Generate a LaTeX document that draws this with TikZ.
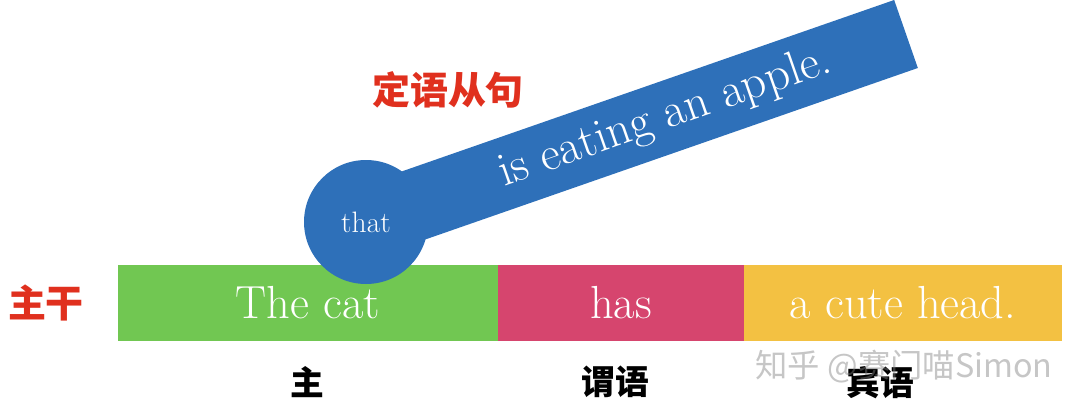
\documentclass[tikz,border=0pt]{standalone}
\usepackage{fontspec}
\newfontfamily\cjk{Noto Sans CJK SC}
\usetikzlibrary{positioning,calc}
\definecolor{catgreen}{RGB}{113,199,82}
\definecolor{haspink}{RGB}{214,69,110}
\definecolor{headyellow}{RGB}{243,193,66}
\definecolor{clauseblue}{RGB}{46,112,185}
\definecolor{tagred}{RGB}{224,48,30}

\begin{document}
\begin{tikzpicture}[
        word/.style={minimum height=1.9cm, inner sep=0pt, outer sep=0pt, text=white, font=\fontsize{33}{33}\selectfont},
        role/.style={font=\cjk\bfseries\fontsize{24}{24}\selectfont},
        tag/.style={font=\cjk\bfseries\fontsize{27}{27}\selectfont, text=tagred}
    ]
        \useasboundingbox (0,0) rectangle (27,10.325);

        % Main clause
        \node[word, fill=catgreen, minimum width=9.5cm] (subj) at (7.7, 2.75) {The cat};
        \node[word, fill=haspink, minimum width=6.15cm, right=0pt of subj] (pred) {has};
        \node[word, fill=headyellow, minimum width=7.95cm, right=0pt of pred] (obj) {a cute head.};

        % Relative clause
        \coordinate (hub) at (9.15, 4.775);
        \coordinate (tip) at (22.65, 9.475);
        \draw[clauseblue, line width=1.8cm] (hub) -- (tip);
        \node[circle, fill=clauseblue, minimum size=3.1cm, inner sep=0pt, text=white,
              font=\fontsize{21}{21}\selectfont] (rel) at (hub) {that};
        \node[rotate=19.2, text=white, font=\fontsize{34}{34}\selectfont] (clause)
            at ($(hub)!0.554!(tip)$) {is eating an apple.};

        % Tags
        \node[tag] (trunk) at (1.15, 2.75) {主干};
        \node[tag] (attr) at (11.2, 8.075) {定语从句};

        % Roles
        \node[role] (subjrole) at (7.675, 0.775) {主};
        \node[role] (predrole) at (15.375, 0.775) {谓语};
        \node[role] (objrole) at (22.0, 0.75) {宾语};

        % Watermark
        \node[text=gray, opacity=0.45, font=\cjk\fontsize{23}{23}\selectfont] (mark) at (22.6, 1.15) {知乎 @赛门喵Simon};
    \end{tikzpicture}
\end{document}
